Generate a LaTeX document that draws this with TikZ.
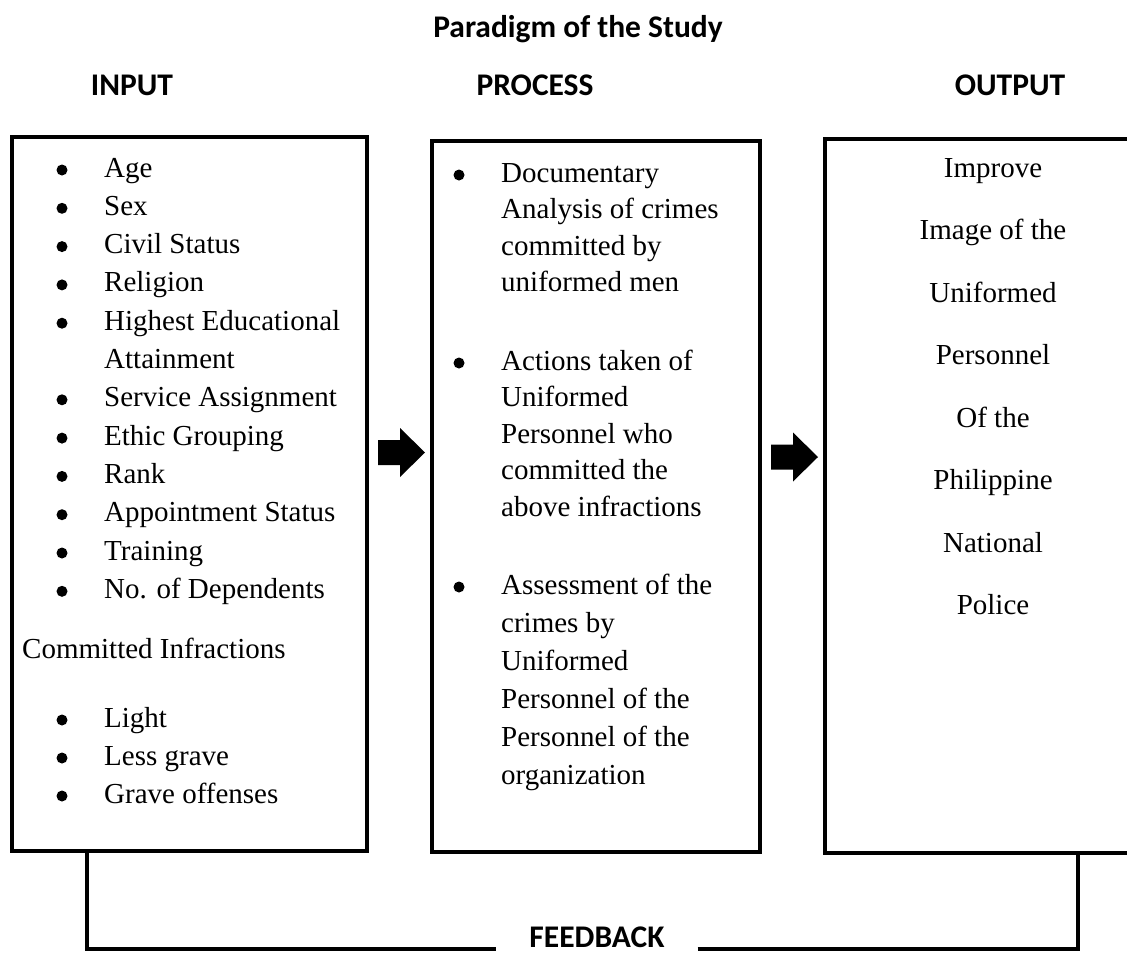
\documentclass[tikz,border=0pt]{standalone}
\usepackage{fontspec}
\setmainfont{Liberation Serif}
\newfontfamily\headfont{Carlito}
\usetikzlibrary{positioning}
\tikzstyle{box} = [draw, line width=4pt, inner sep=0pt]
\tikzstyle{head} = [font=\headfont\bfseries\fontsize{31.5}{36}\selectfont, anchor=base, inner sep=0pt]
\tikzstyle{itm} = [font=\fontsize{29}{34}\selectfont, anchor=base west, inner sep=0pt]
\tikzstyle{ctr} = [font=\fontsize{29}{34}\selectfont, anchor=base, inner sep=0pt]
\tikzstyle{fb} = [line width=3.5pt]
\tikzset{
  blockarrow/.pic={\fill (0,-12.5) -- (22,-12.5) -- (22,-24.5) -- (47,0) -- (22,24.5) -- (22,12.5) -- (0,12.5) -- cycle;},
  bullet/.pic={\fill (0,-7) circle (5.5pt);}
}

\begin{document}
\begin{tikzpicture}[x=1pt, y=-1pt]
    \useasboundingbox (0,0) rectangle (1127,954);
    \clip (0,0) rectangle (1127,954);
    \node[head] (title) at (578,37) {Paradigm of the Study};
    \node[head] (hin) at (132,95) {INPUT};
    \node[head] (hproc) at (535,95) {PROCESS};
    \node[head] (hout) at (1010,95) {OUTPUT};

    \node[box, minimum width=355pt, minimum height=714pt] (inbox) at (189.5,494) {};
    \node[box, minimum width=328pt, minimum height=711pt] (procbox) at (596,496.5) {};
    \node[box, minimum width=315pt, minimum height=714pt] (outbox) at (982.5,496) {};

    \pic (arrA) at (378,452.5) {blockarrow};
    \pic (arrB) at (771,457) {blockarrow};

    \foreach \yy/\txt [count=\i] in {177/Age, 215.3/Sex, 253.6/Civil Status, 291.9/Religion,
        330.2/Highest Educational, 406.8/Service Assignment, 445.1/Ethic Grouping, 483.4/Rank,
        521.7/Appointment Status, 560/Training, 598.3/No. of Dependents,
        727/Light, 765/Less grave, 803/Grave offenses} {
      \pic (inb\i) at (62,\yy) {bullet};
      \node[itm] (in\i) at (104,\yy) {\txt};
    }
    \node[itm] (inattain) at (104,368.5) {Attainment};
    \node[itm] (incommit) at (22,658) {Committed Infractions};

    \foreach \yy/\txt [count=\i] in {182/Documentary, 218.5/Analysis of crimes, 255/committed by,
        291.5/uniformed men, 370/Actions taken of, 406.5/Uniformed, 443/Personnel who,
        479.5/committed the, 516/above infractions, 594/Assessment of the, 632/crimes by,
        670/Uniformed, 708/Personnel of the, 746/Personnel of the, 784/organization} {
      \node[itm] (proc\i) at (501,\yy) {\txt};
    }
    \foreach \yy [count=\i] in {182, 370, 594} {
      \pic (procb\i) at (459,\yy) {bullet};
    }

    \foreach \yy/\txt [count=\i] in {177/Improve, 239.5/Image of the, 302/Uniformed, 364.5/Personnel,
        427/Of the, 489.5/Philippine, 552/National, 614.5/Police} {
      \node[ctr] (out\i) at (993,\yy) {\txt};
    }

    \node[head, inner xsep=33pt] (fbtext) at (597,947) {FEEDBACK};
    \coordinate (fbL) at (87,949);
    \coordinate (fbR) at (1078,949);
    \draw[fb] (inbox.south -| fbL) -- (fbL) -- (fbL -| fbtext.west);
    \draw[fb] (fbR -| fbtext.east) -- (fbR) -- (outbox.south -| fbR);
\end{tikzpicture}
\end{document}
